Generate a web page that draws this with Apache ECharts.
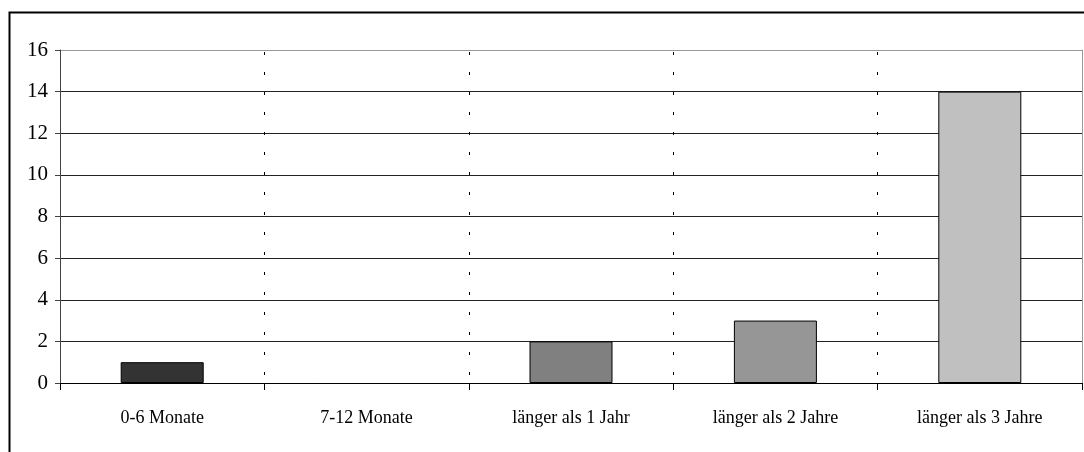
<!DOCTYPE html>
<html>
<head>
<meta charset="utf-8">
<script src="https://cdn.jsdelivr.net/npm/echarts@6/dist/echarts.min.js"></script>
<style>
html,body{margin:0;padding:0;background:#fff;}
#chart{width:1084px;height:452px;}
</style>
</head>
<body>
<div id="chart"></div>
<script>
const categories = ['0-6 Monate', '7-12 Monate', 'länger als 1 Jahr', 'länger als 2 Jahre', 'länger als 3 Jahre'];
const values = [1, 0, 2, 3, 14];
const barColors = ['#333333', '#666666', '#808080', '#969696', '#c0c0c0'];
const yMin = 0, yMax = 16, yStep = 2;

const chart = echarts.init(document.getElementById('chart'), null, {renderer: 'canvas'});
const font = '"Liberation Serif", "Times New Roman", serif';
const gridColors = ['#222','#222','#222','#222','#222','#222','#222','#222','#999'];

chart.setOption({
  animation: false,
  backgroundColor: '#fff',
  graphic: [{
    type: 'rect', left: 7, top: 10, silent: true,
    shape: {width: 1200, height: 600},
    style: {fill: 'none', stroke: '#000', lineWidth: 2}
  }],
  grid: {left: 60, right: 2, top: 50, bottom: 69, containLabel: false},
  xAxis: {
    type: 'category',
    data: categories,
    boundaryGap: true,
    axisLine: {show: true, lineStyle: {color: '#000', width: 1}},
    axisTick: {show: true, length: 7, alignWithLabel: false, lineStyle: {color: '#000'}},
    axisLabel: {margin: 26, color: '#000', fontFamily: font, fontSize: 18},
    splitLine: {show: true, lineStyle: {color: '#000', type: [3, 17], width: 1, dashOffset: -2}}
  },
  yAxis: [{
    type: 'value',
    min: yMin, max: yMax, interval: yStep,
    axisLine: {show: true, lineStyle: {color: '#444', width: 1}},
    axisTick: {show: true, length: 5, lineStyle: {color: '#444'}},
    axisLabel: {margin: 12, color: '#000', fontFamily: font, fontSize: 21, padding: [4, 0, 0, 0]},
    splitLine: {show: true, lineStyle: {color: gridColors, width: 1}}
  }, {
    type: 'value', position: 'right',
    min: yMin, max: yMax, interval: yStep,
    axisLine: {show: true, lineStyle: {color: '#999', width: 1}},
    axisTick: {show: false}, axisLabel: {show: false}, splitLine: {show: false}
  }],
  series: [{
    type: 'bar',
    barWidth: 83,
    data: values.map((v, i) => ({
      value: v,
      itemStyle: {color: barColors[i], borderWidth: v === 0 ? 0 : 1, borderColor: '#000'}
    })),
    silent: true
  }]
});
</script>
</body>
</html>
